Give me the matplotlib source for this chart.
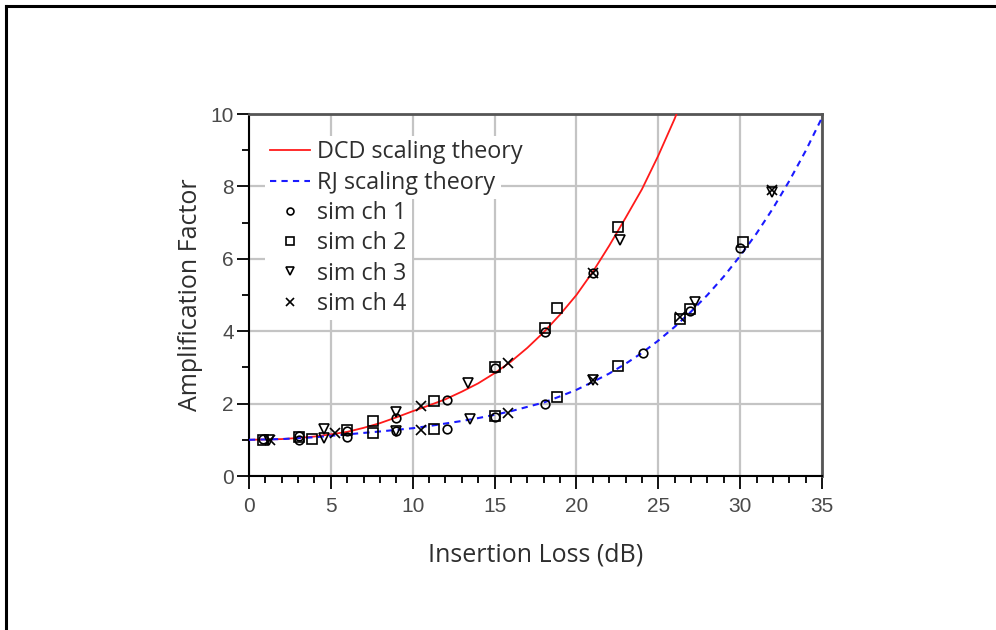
import matplotlib
matplotlib.use("Agg")
import matplotlib.pyplot as plt
from matplotlib.lines import Line2D
from matplotlib.patches import Rectangle
from matplotlib.ticker import MultipleLocator

# ---- data ----
dcd_x = [0, 1, 2, 3, 4, 5, 6, 7, 8, 9, 10, 11, 12, 13, 14, 15, 16, 17, 18, 19, 20, 21,
         22, 23, 24, 25, 26, 26.5]
dcd_y = [1.00, 1.01, 1.02, 1.05, 1.09, 1.15, 1.22, 1.33, 1.46, 1.62, 1.79, 1.95, 2.12,
         2.33, 2.56, 2.84, 3.16, 3.54, 3.97, 4.46, 5.00, 5.64, 6.36, 7.13, 7.92, 8.85,
         9.87, 10.45]

rj_x = [0, 1, 2, 3, 4, 5, 6, 7, 8, 9, 10, 11, 12, 13, 14, 15, 16, 17, 18, 19, 20, 21,
        22, 23, 24, 25, 26, 27, 28, 29, 30, 31, 32, 33, 34, 35]
rj_y = [1.00, 1.01, 1.02, 1.045, 1.07, 1.11, 1.15, 1.19, 1.23, 1.275, 1.32, 1.38, 1.45,
        1.52, 1.60, 1.69, 1.79, 1.91, 2.03, 2.20, 2.38, 2.60, 2.83, 3.10, 3.40, 3.74,
        4.12, 4.54, 5.00, 5.51, 6.08, 6.70, 7.39, 8.15, 8.98, 9.90]

ch1_x = [0.87, 3.05, 3.05, 6.0, 6.0, 8.96, 8.96, 12.07, 12.07, 15.0, 15.0, 18.08, 18.08,
         21.03, 24.09, 26.94, 30.0]
ch1_y = [1.01, 1.00, 1.10, 1.25, 1.08, 1.60, 1.25, 2.10, 1.30, 2.98, 1.62, 3.99, 2.00,
         5.60, 3.39, 4.55, 6.29]

ch2_x = [0.87, 3.05, 3.83, 6.0, 7.55, 7.55, 11.3, 11.3, 15.03, 15.03, 18.08, 18.8, 18.8,
         22.56, 22.56, 26.33, 26.94, 30.16]
ch2_y = [1.00, 1.08, 1.03, 1.27, 1.52, 1.18, 2.07, 1.30, 3.02, 1.66, 4.10, 4.63, 2.17,
         6.89, 3.05, 4.33, 4.62, 6.47]

ch3_x = [1.2, 4.58, 4.58, 8.96, 8.96, 13.4, 13.5, 21.03, 22.66, 27.24, 31.93]
ch3_y = [1.00, 1.29, 1.06, 1.76, 1.24, 2.56, 1.58, 2.65, 6.52, 4.82, 7.85]

ch4_x = [1.3, 5.25, 10.49, 10.49, 15.84, 15.84, 21.03, 21.03, 26.33, 31.93]
ch4_y = [1.00, 1.18, 1.92, 1.26, 3.13, 1.75, 5.60, 2.65, 4.40, 7.91]

x_ticks = [0, 5, 10, 15, 20, 25, 30, 35]
y_ticks = [0, 2, 4, 6, 8, 10]

# ---- figure ----
fig = plt.figure(figsize=(9.96, 6.3), dpi=100)
ax = fig.add_axes([249 / 996, 1 - 476 / 630, (822 - 249) / 996, (476 - 114) / 630])

txt_color = "#2e2e2e"
tick_color = "#4a4a4a"

ax.plot(dcd_x, dcd_y, color="#ff1a1a", lw=1.3, label="DCD scaling theory", zorder=3)
ax.plot(rj_x, rj_y, color="#1a1aff", lw=1.5, ls=(0, (3, 2.5)), label="RJ scaling theory", zorder=3)

mk = dict(ls="none", mfc="none", mec="black", mew=1.2, zorder=4)
ax.plot(ch1_x, ch1_y, marker="o", ms=6.2, label="sim ch 1", **mk)
ax.plot(ch2_x, ch2_y, marker="s", ms=6.8, label="sim ch 2", **mk)
ax.plot(ch3_x, ch3_y, marker="v", ms=6.8, label="sim ch 3", **mk)
ax.plot(ch4_x, ch4_y, marker="x", ms=6.8, label="sim ch 4", **mk)

ax.set_xlim(0, 35)
ax.set_ylim(0, 10)
ax.set_xticks(x_ticks)
ax.set_yticks(y_ticks)
ax.xaxis.set_minor_locator(MultipleLocator(1))
ax.yaxis.set_minor_locator(MultipleLocator(1))
ax.grid(True, which="major", color="#c4c4c4", lw=1.6)
ax.set_axisbelow(True)

ax.tick_params(which="major", direction="out", length=9, width=1.3, color="black",
               labelsize=15, labelcolor=tick_color)
ax.tick_params(which="minor", direction="out", length=5, width=1.3, color="black")
ax.tick_params(axis="x", which="major", pad=6)
ax.tick_params(axis="y", which="major", pad=2)
for lab in ax.get_xticklabels() + ax.get_yticklabels():
    lab.set_family("Liberation Sans")

for s in ("left", "bottom"):
    ax.spines[s].set_color("black")
    ax.spines[s].set_linewidth(1.5)
for s in ("top", "right"):
    ax.spines[s].set_color("#555555")
    ax.spines[s].set_linewidth(2)

ax.set_xlabel("Insertion Loss (dB)", fontsize=18, family="Open Sans", color=txt_color, labelpad=19)
ax.set_ylabel("Amplification Factor", fontsize=18, family="Open Sans", color=txt_color, labelpad=5)

leg = ax.legend(loc="upper left", bbox_to_anchor=(0.0, 0.985), frameon=False,
                prop={"family": "Open Sans", "size": 16.8}, labelspacing=0.27,
                handlelength=1.7, handletextpad=0.3, borderaxespad=0.5, markerscale=0.8)
for t in leg.get_texts():
    t.set_color(txt_color)

# white backgrounds behind legend rows (as in the reference)
fig.canvas.draw()
r = fig.canvas.get_renderer()
lb = leg.get_window_extent(r)
inv = ax.transAxes.inverted()
texts = leg.get_texts()
for i, t in enumerate(texts):
    tb = t.get_window_extent(r)
    x0, y0 = inv.transform((lb.x0 + 4, tb.y0 - 4))
    x1, y1 = inv.transform((tb.x1 + 6, tb.y1 + 4))
    ax.add_patch(Rectangle((x0, y0), x1 - x0, y1 - y0, transform=ax.transAxes,
                           facecolor="white", edgecolor="none", zorder=2))

# figure border (top and left visible)
fig.add_artist(Line2D([6 / 996, 1.0], [1 - 6 / 630, 1 - 6 / 630], color="black", lw=2.2,
                      transform=fig.transFigure))
fig.add_artist(Line2D([6 / 996, 6 / 996], [0, 1 - 6 / 630], color="black", lw=2.2,
                      transform=fig.transFigure))

fig.savefig("out.png", dpi=100)
